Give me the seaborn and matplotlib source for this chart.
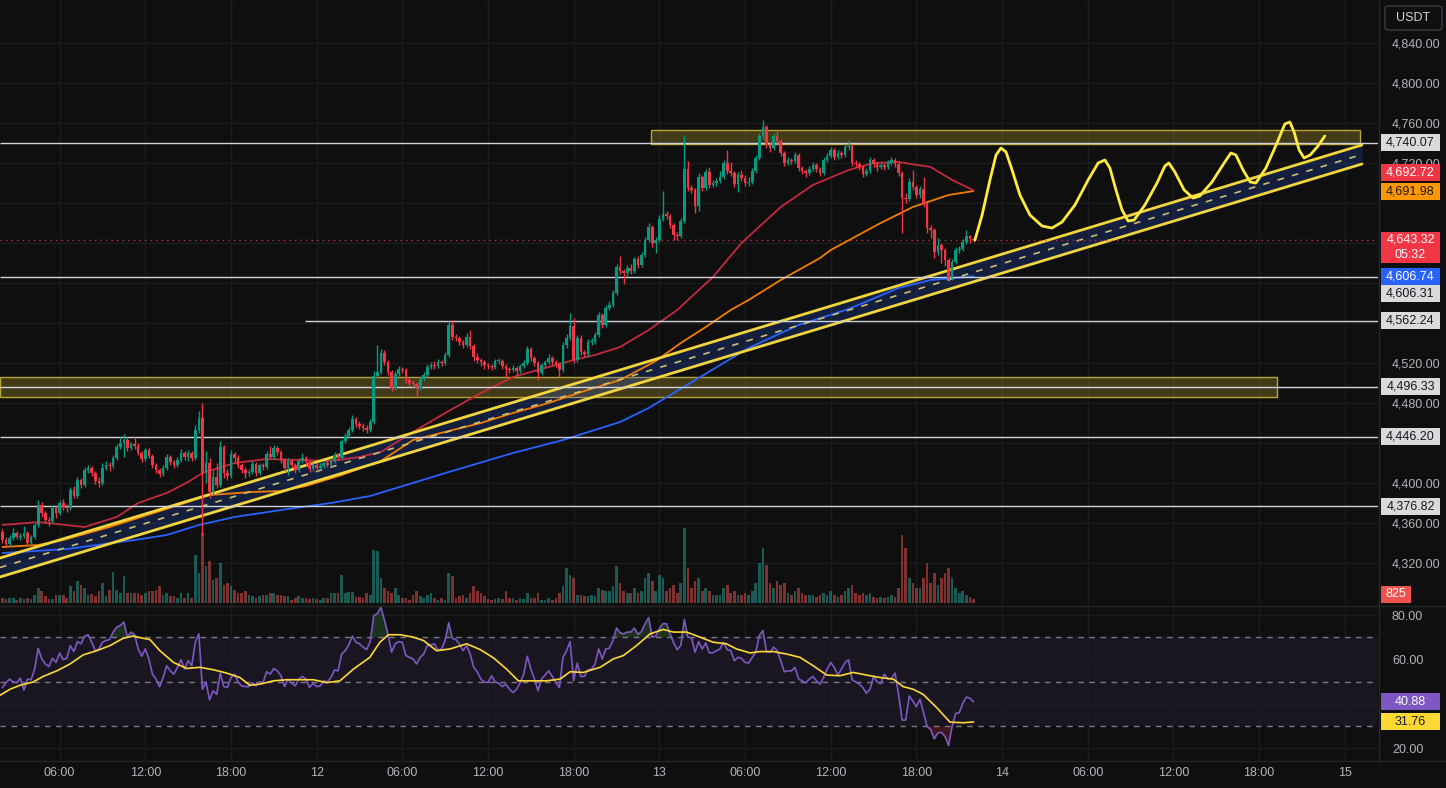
import numpy as np
import pandas as pd
import seaborn as sns
import matplotlib.pyplot as plt
from matplotlib.patches import Rectangle, FancyBboxPatch
from matplotlib.lines import Line2D

#------------------------------------------------------------------------------#
# 15 min candles, first bar opens on the 11th at 02:00 (x = bar number)
#------------------------------------------------------------------------------#
first_open = 4351
closes = [
    4343, 4339, 4345, 4350, 4346, 4347, 4350, 4340, 4346, 4358,
    4378, 4370, 4363, 4362, 4375, 4370, 4380, 4376, 4375, 4393,
    4387, 4403, 4398, 4413, 4415, 4410, 4402, 4400, 4415, 4418,
    4417, 4425, 4436, 4440, 4443, 4435, 4439, 4437, 4430, 4424,
    4433, 4427, 4418, 4413, 4409, 4415, 4426, 4421, 4418, 4423,
    4430, 4426, 4430, 4425, 4453, 4465, 4410, 4420, 4391, 4406,
    4398, 4436, 4410, 4407, 4429, 4425, 4418, 4413, 4410, 4411,
    4419, 4410, 4418, 4416, 4429, 4426, 4435, 4431, 4423, 4415,
    4422, 4418, 4413, 4422, 4425, 4421, 4414, 4418, 4415, 4417,
    4420, 4418, 4422, 4428, 4425, 4442, 4447, 4453, 4464, 4459,
    4457, 4455, 4453, 4461, 4507, 4511, 4530, 4521, 4511, 4495,
    4509, 4514, 4513, 4503, 4500, 4499, 4495, 4504, 4508, 4516,
    4518, 4517, 4521, 4520, 4528, 4558, 4546, 4545, 4541, 4538,
    4546, 4537, 4526, 4523, 4521, 4518, 4517, 4516, 4522, 4522,
    4517, 4514, 4513, 4515, 4512, 4517, 4520, 4534, 4525, 4520,
    4510, 4518, 4521, 4525, 4521, 4519, 4513, 4538, 4545, 4557,
    4523, 4545, 4531, 4529, 4541, 4541, 4548, 4568, 4558, 4575,
    4578, 4590, 4616, 4612, 4610, 4615, 4612, 4624, 4618, 4628,
    4643, 4656, 4640, 4643, 4664, 4669, 4667, 4658, 4648, 4647,
    4662, 4714, 4695, 4693, 4677, 4706, 4695, 4711, 4698, 4700,
    4702, 4706, 4720, 4712, 4710, 4699, 4708, 4705, 4700, 4701,
    4712, 4725, 4747, 4756, 4738, 4735, 4747, 4742, 4730, 4720,
    4723, 4722, 4728, 4715, 4712, 4710, 4714, 4718, 4714, 4710,
    4723, 4727, 4733, 4726, 4730, 4728, 4736, 4737, 4720, 4719,
    4716, 4709, 4712, 4723, 4719, 4716, 4718, 4716, 4720, 4723,
    4719, 4710, 4685, 4684, 4701, 4696, 4688, 4694, 4679, 4655,
    4653, 4631, 4638, 4633, 4623, 4605, 4621, 4633, 4634, 4641,
    4647, 4644, 4643.32]
highs = [
    4354, 4346, 4348, 4355, 4352, 4350, 4357, 4352, 4348, 4360,
    4383, 4381, 4372, 4366, 4378, 4377, 4383, 4384, 4379, 4396,
    4397, 4406, 4405, 4416, 4418, 4417, 4412, 4406, 4420, 4422,
    4421, 4428, 4439, 4446, 4449, 4446, 4441, 4446, 4440, 4432,
    4435, 4435, 4429, 4420, 4415, 4418, 4429, 4428, 4423, 4426,
    4434, 4432, 4433, 4432, 4458, 4472, 4480, 4432, 4425, 4413,
    4420, 4442, 4438, 4414, 4433, 4431, 4428, 4420, 4416, 4414,
    4422, 4421, 4420, 4420, 4432, 4437, 4438, 4437, 4433, 4425,
    4425, 4424, 4420, 4425, 4430, 4427, 4423, 4421, 4420, 4420,
    4422, 4423, 4424, 4431, 4430, 4444, 4450, 4456, 4468, 4466,
    4462, 4460, 4458, 4464, 4512, 4538, 4534, 4533, 4523, 4513,
    4512, 4517, 4516, 4515, 4505, 4503, 4501, 4506, 4511, 4519,
    4521, 4522, 4524, 4523, 4531, 4562, 4563, 4549, 4547, 4543,
    4550, 4553, 4539, 4530, 4525, 4523, 4520, 4519, 4524, 4525,
    4524, 4519, 4516, 4518, 4517, 4519, 4523, 4537, 4536, 4527,
    4522, 4520, 4523, 4529, 4527, 4523, 4521, 4541, 4549, 4570,
    4565, 4548, 4548, 4533, 4544, 4545, 4551, 4571, 4570, 4578,
    4582, 4593, 4619, 4627, 4614, 4618, 4619, 4626, 4627, 4631,
    4646, 4660, 4658, 4646, 4668, 4692, 4672, 4669, 4660, 4651,
    4665, 4748, 4722, 4698, 4695, 4710, 4708, 4714, 4716, 4703,
    4705, 4712, 4723, 4733, 4721, 4712, 4711, 4713, 4708, 4706,
    4715, 4728, 4750, 4763, 4758, 4741, 4750, 4753, 4744, 4732,
    4726, 4725, 4731, 4730, 4717, 4714, 4717, 4721, 4720, 4716,
    4726, 4730, 4736, 4735, 4733, 4732, 4739, 4743, 4739, 4723,
    4721, 4718, 4715, 4726, 4725, 4721, 4721, 4720, 4723, 4726,
    4725, 4722, 4712, 4690, 4705, 4713, 4698, 4697, 4706, 4681,
    4658, 4655, 4645, 4640, 4635, 4625, 4624, 4636, 4637, 4644,
    4653, 4648, 4646]
lows = [
    4340, 4336, 4337, 4343, 4344, 4343, 4345, 4337, 4338, 4344,
    4356, 4366, 4360, 4357, 4360, 4365, 4368, 4373, 4371, 4373,
    4385, 4385, 4395, 4396, 4410, 4407, 4399, 4396, 4398, 4413,
    4412, 4415, 4423, 4434, 4426, 4432, 4433, 4434, 4428, 4421,
    4422, 4425, 4415, 4410, 4406, 4407, 4413, 4418, 4415, 4416,
    4421, 4423, 4422, 4422, 4423, 4450, 4348, 4400, 4385, 4388,
    4395, 4396, 4405, 4403, 4405, 4420, 4415, 4410, 4405, 4407,
    4409, 4407, 4408, 4413, 4414, 4424, 4424, 4428, 4420, 4412,
    4408, 4415, 4410, 4411, 4420, 4418, 4411, 4412, 4412, 4413,
    4415, 4416, 4416, 4420, 4423, 4424, 4440, 4445, 4451, 4456,
    4454, 4452, 4450, 4451, 4459, 4505, 4509, 4518, 4508, 4492,
    4493, 4507, 4510, 4500, 4497, 4496, 4486, 4493, 4502, 4506,
    4514, 4514, 4515, 4517, 4518, 4526, 4543, 4542, 4538, 4535,
    4536, 4534, 4522, 4520, 4517, 4514, 4514, 4513, 4514, 4519,
    4514, 4506, 4510, 4511, 4508, 4510, 4515, 4518, 4522, 4517,
    4503, 4508, 4516, 4519, 4518, 4516, 4506, 4511, 4535, 4543,
    4520, 4521, 4528, 4526, 4527, 4538, 4539, 4546, 4555, 4556,
    4573, 4576, 4588, 4609, 4599, 4607, 4609, 4610, 4615, 4616,
    4626, 4641, 4636, 4630, 4641, 4662, 4664, 4655, 4643, 4643,
    4645, 4660, 4692, 4690, 4670, 4672, 4692, 4693, 4695, 4696,
    4697, 4700, 4704, 4709, 4707, 4696, 4691, 4702, 4697, 4697,
    4699, 4710, 4723, 4744, 4735, 4731, 4733, 4739, 4727, 4717,
    4718, 4719, 4720, 4712, 4709, 4706, 4708, 4712, 4711, 4707,
    4708, 4721, 4725, 4723, 4724, 4725, 4726, 4733, 4717, 4716,
    4713, 4706, 4707, 4710, 4716, 4712, 4714, 4713, 4714, 4718,
    4716, 4707, 4650, 4680, 4682, 4693, 4685, 4685, 4676, 4650,
    4645, 4625, 4628, 4620, 4617, 4602, 4603, 4619, 4630, 4632,
    4639, 4640, 4641]
volume = [
    1000, 800, 1000, 1000, 600, 1000, 800, 1000, 800, 1600,
    3000, 2400, 1400, 800, 800, 1600, 1600, 1600, 1000, 3400,
    2400, 4400, 3600, 3000, 1600, 1800, 1400, 2400, 4000, 1400,
    2600, 6200, 2600, 2000, 5400, 2000, 2000, 2000, 2000, 1600,
    2000, 2400, 2400, 2600, 3400, 1600, 2000, 1400, 1400, 1000,
    2000, 1000, 2000, 1000, 9600, 6000, 14000, 7400, 8400, 4600,
    5000, 8000, 3600, 4000, 3400, 2600, 2000, 2000, 2400, 1600,
    1400, 1000, 1400, 1600, 1600, 2000, 2000, 1600, 1600, 1400,
    1400, 600, 1000, 1400, 1000, 1000, 800, 1000, 800, 600,
    1000, 1000, 2000, 2000, 2000, 5600, 2000, 2200, 2200, 1200,
    1200, 1000, 2000, 1600, 10600, 10400, 5000, 3000, 2400, 2000,
    3000, 1600, 1000, 1000, 600, 1600, 2400, 1400, 1000, 1600,
    2000, 1000, 600, 1000, 600, 6000, 5400, 1000, 1400, 1600,
    1000, 2000, 3400, 2400, 2000, 1400, 800, 600, 800, 1000,
    800, 2400, 1000, 1000, 600, 1000, 800, 2000, 1000, 1000,
    2000, 600, 600, 1000, 600, 1000, 2000, 3400, 7000, 5600,
    5000, 1600, 1600, 1400, 1400, 1600, 1400, 3000, 2600, 2400,
    2400, 3400, 7400, 4000, 2400, 2000, 2000, 3000, 2000, 2400,
    5000, 6000, 4400, 2400, 5600, 5000, 2400, 3000, 3600, 2000,
    4000, 15000, 7000, 3000, 4400, 5000, 2400, 3000, 2400, 1600,
    1600, 1600, 3000, 3600, 2000, 2400, 1600, 1600, 2000, 1600,
    2400, 4000, 8000, 11000, 7600, 4000, 3000, 4400, 3600, 4000,
    2000, 1600, 2400, 3000, 2000, 1600, 1600, 1600, 1200, 1600,
    2000, 1600, 2400, 1600, 1200, 1600, 2400, 3000, 3600, 2000,
    1600, 2000, 1600, 2000, 1200, 1000, 1200, 1000, 1200, 1600,
    1200, 3000, 13600, 11000, 5000, 4000, 3000, 3000, 5000, 8000,
    4000, 6000, 3600, 5000, 6000, 7000, 5000, 3000, 2000, 2400,
    1600, 1200, 825]
rsi = [
    47.3, 49.5, 51.1, 49.8, 49.5, 51.5, 46.2, 51.1, 50.8, 55.6,
    65.0, 60.2, 57.9, 56.8, 60.5, 58.6, 62.9, 59.8, 60.5, 66.2,
    63.5, 68.0, 67.0, 70.5, 71.1, 67.7, 63.9, 64.7, 67.7, 68.5,
    68.9, 72.3, 74.5, 75.3, 76.8, 70.0, 72.3, 71.1, 64.7, 61.4,
    64.7, 60.2, 53.3, 51.1, 47.7, 51.8, 57.1, 54.8, 53.3, 56.4,
    59.8, 55.6, 59.4, 57.1, 67.7, 71.5, 46.5, 49.8, 41.7, 45.8,
    44.2, 53.8, 47.7, 47.3, 51.8, 53.3, 49.8, 48.0, 47.7, 47.7,
    49.5, 48.0, 49.8, 49.5, 54.4, 53.3, 55.9, 54.8, 52.6, 47.7,
    51.1, 49.2, 48.0, 51.1, 52.3, 51.1, 47.3, 49.2, 47.7, 48.0,
    50.3, 49.8, 51.8, 55.2, 54.8, 62.4, 63.9, 66.5, 70.5, 67.7,
    67.0, 65.5, 64.4, 68.0, 79.8, 80.6, 83.6, 77.6, 71.1, 63.2,
    67.0, 68.0, 67.7, 61.7, 60.9, 60.2, 57.9, 60.9, 62.4, 66.2,
    66.5, 67.0, 63.9, 64.7, 68.5, 76.5, 69.5, 68.9, 67.0, 63.9,
    66.2, 62.4, 56.4, 54.4, 51.1, 49.8, 49.5, 52.6, 49.8, 49.2,
    47.7, 48.8, 46.5, 45.0, 46.5, 49.5, 53.3, 61.4, 55.6, 51.1,
    45.8, 51.1, 52.9, 54.8, 52.3, 49.5, 47.3, 60.9, 63.9, 68.0,
    50.3, 58.3, 52.3, 52.3, 55.3, 55.6, 57.9, 64.7, 60.2, 64.7,
    65.0, 68.5, 74.1, 72.0, 71.5, 72.3, 72.3, 74.1, 71.2, 72.6,
    76.1, 78.8, 70.0, 70.5, 73.8, 76.1, 76.1, 71.5, 67.4, 64.4,
    66.3, 78.0, 70.0, 69.7, 63.2, 68.0, 64.7, 67.4, 62.9, 63.0,
    63.9, 64.7, 67.7, 64.4, 63.9, 59.4, 60.9, 60.5, 58.6, 58.3,
    60.9, 63.2, 70.8, 73.0, 63.5, 63.2, 65.5, 63.9, 59.4, 54.4,
    54.8, 54.8, 56.4, 51.1, 50.3, 49.3, 51.1, 52.3, 50.3, 48.8,
    51.8, 55.6, 58.6, 56.4, 52.9, 55.6, 58.6, 59.8, 50.8, 49.8,
    48.8, 47.3, 44.7, 46.5, 52.3, 49.8, 49.0, 53.3, 51.1, 51.4,
    53.8, 44.2, 32.6, 32.6, 43.5, 41.2, 38.6, 42.0, 35.9, 29.8,
    28.3, 24.1, 26.8, 27.1, 25.3, 21.1, 29.8, 35.6, 35.9, 40.2,
    43.0, 42.4, 40.88]

# RSI based MA (yellow), read at points along the line
rsi_ma_x = [-0.7, 2.1, 4.9, 8.6, 11.4, 15.2, 18.9, 22.6, 26.4, 30.1,
            33.8, 36.6, 39.4, 41.3, 44.1, 47.9, 51.6, 55.3, 59.1, 62.8,
            66.5, 69.3, 72.1, 75.9, 79.6, 83.3, 87.1, 90.8, 94.5, 98.3,
            102.9, 105.7, 108.1, 111.3, 115.1, 117.9, 121.6, 125.4, 130.0, 133.7,
            137.5, 141.2, 144.5, 148.7, 152.4, 156.2, 159.0, 162.7, 167.4, 171.1,
            173.9, 177.6, 181.4, 185.1, 187.9, 191.6, 195.4, 199.1, 202.8, 205.6,
            209.4, 212.2, 215.9, 219.6, 223.4, 227.1, 230.9, 234.6, 238.3, 242.1,
            245.8, 249.5, 252.3, 255.1, 257.9, 261.7, 265.4, 269.1, 272.0]
rsi_ma = [43.8, 46.5, 48.3, 49.8, 52.3, 54.8, 57.9, 62.0, 63.9, 66.2,
          69.5, 70.5, 69.5, 68.9, 63.9, 58.6, 55.9, 56.4, 55.3, 53.8,
          51.8, 48.3, 48.8, 50.3, 50.8, 50.8, 50.8, 49.5, 50.3, 55.6,
          60.9, 67.7, 71.1, 71.1, 70.0, 68.5, 63.9, 64.7, 67.0, 64.5,
          60.7, 55.6, 50.3, 50.3, 50.3, 51.1, 54.4, 54.1, 56.4, 60.2,
          61.7, 66.2, 71.5, 73.5, 72.3, 72.3, 70.0, 67.7, 67.0, 64.7,
          62.9, 63.5, 63.5, 62.4, 60.9, 57.1, 52.9, 52.6, 54.1, 52.9,
          51.8, 51.1, 47.7, 46.5, 44.2, 38.2, 31.7, 31.4, 31.76]

# moving averages on price (red, orange, blue)
ma_red_x = [0, 10, 23, 32, 38, 46, 52, 56, 65, 74, 83, 92, 100, 106, 110, 115, 124, 134,
            143, 153, 160, 166, 173, 181, 189, 192, 199, 207, 218, 227, 237, 244, 251,
            260, 266, 272]
ma_red = [4358, 4361, 4356, 4366, 4380, 4390, 4401, 4410, 4420, 4424, 4423, 4422, 4426,
          4431, 4440, 4451, 4470, 4490, 4506, 4516, 4523, 4528, 4536, 4553, 4573, 4583,
          4606, 4640, 4676, 4698, 4713, 4720, 4721, 4716, 4703, 4692.72]
ma_orange_x = [0, 10, 17, 30, 45, 58, 70, 78, 85, 95, 106, 115, 125, 134, 143, 153, 163,
               173, 183, 190, 197, 204, 209, 218, 229, 232, 246, 255, 265, 272]
ma_orange = [4336, 4338, 4343, 4356, 4373, 4388, 4391, 4392, 4397, 4408, 4422, 4443, 4452,
             4460, 4470, 4480, 4492, 4503, 4522, 4540, 4556, 4573, 4583, 4603, 4625, 4633,
             4660, 4676, 4688, 4691.98]
ma_blue_x = [0, 18, 37, 46, 55, 65, 78, 92, 103, 125, 143, 157, 173, 181, 195, 209, 223,
             237, 251, 260, 272]
ma_blue = [4330, 4334, 4343, 4348, 4358, 4366, 4373, 4380, 4387, 4411, 4430, 4443, 4461,
           4475, 4505, 4535, 4558, 4574, 4595, 4603, 4606.74]

# drawn objects
chan_x = [-0.7, 380.8]
chan_upper = [4325, 4738]
chan_mid = [4315.5, 4728.5]
chan_lower = [4306, 4719]

zone_x0 = [181.7, -0.7]
zone_x1 = [380.3, 357.0]
zone_lo = [4739, 4486]
zone_hi = [4753, 4506]

level_vals = [4740.07, 4606.31, 4562.24, 4496.33, 4446.20, 4376.82]
level_from = [-0.7, -0.7, 84.7, -0.7, -0.7, -0.7]

# hand-drawn forecast path
fc_x = [272.4, 274.4, 276.6, 278.3, 279.7, 281.1, 282.8, 285.0, 287.8, 291.2, 294.0,
        296.8, 300.4, 304.1, 306.9, 308.8, 310.2, 311.9, 313.6, 315.3, 317.0, 320.0,
        323.4, 325.6, 326.7, 328.4, 331.0, 333.5, 335.4, 338.8, 342.2, 344.1, 345.5,
        347.5, 349.5, 351.1, 353.9, 357.0, 359.2, 360.6, 361.8, 363.2, 364.6, 366.3,
        368.5, 370.4]
fc_y = [4643, 4668, 4703, 4728, 4735, 4731, 4713, 4688, 4668, 4657, 4655,
        4661, 4678, 4703, 4720, 4723, 4715, 4693, 4673, 4662, 4663, 4678,
        4700, 4717, 4720, 4711, 4693, 4685, 4687, 4701, 4720, 4730, 4728,
        4713, 4701, 4700, 4715, 4740, 4759, 4761, 4751, 4733, 4725, 4728,
        4737, 4747]

price_ticks = [4320, 4360, 4400, 4440, 4480, 4520, 4560, 4600, 4640, 4680, 4720, 4760, 4800, 4840]
price_hidden = [4440, 4560, 4600, 4640, 4680]      # sit under the price tags
rsi_ticks = [20, 40, 60, 80]
rsi_hidden = [40]
tick_hours = [6, 12, 18, 24, 30, 36, 42, 48, 54, 60, 66, 72, 78, 84, 90, 96]
tick_labels = ['06:00', '12:00', '18:00', '12', '06:00', '12:00', '18:00', '13',
               '06:00', '12:00', '18:00', '14', '06:00', '12:00', '18:00', '15']
countdown = '05:32'

#------------------------------------------------------------------------------#

W, H = 1446, 788
BG = '#0f0f0f'
GRID = '#1c1c1c'
TXT = '#b2b5be'
UP, DN = '#089981', '#f23645'


def main():
    sns.set_theme(style='dark', rc={'axes.facecolor': BG, 'figure.facecolor': BG,
                                    'savefig.facecolor': BG})
    plt.rcParams['font.family'] = ['Liberation Sans', 'DejaVu Sans']

    fig = plt.figure(figsize=(W / 100, H / 100), dpi=100)

    def px_axes(x0, y0, x1, y1):
        return fig.add_axes([x0 / W, 1 - y1 / H, (x1 - x0) / W, (y1 - y0) / H])

    ax = px_axes(0, 0, 1378, 605)
    axr = px_axes(0, 606, 1378, 760)
    x_lo, x_hi = -0.7, 385.3

    n = min(len(closes), len(highs), len(lows), len(volume), len(rsi))
    idx = np.arange(n)
    c = np.array(closes[:n], float)
    o = np.r_[first_open, c[:-1]]
    hi = np.array(highs[:n], float)
    lo = np.array(lows[:n], float)
    up = c >= o
    cols = np.where(up, UP, DN)

    # volume, drawn in axes-fraction height (about 200 coins per pixel)
    vol = np.array(volume[:n], float)
    ax.bar(idx, vol / (603 * 200), bottom=2 / 605, width=0.74,
           color=np.where(up, '#26a69a', '#ef5350'), alpha=0.5, lw=0,
           transform=ax.get_xaxis_transform(), zorder=1)

    # zones
    for x0, x1, y0, y1 in zip(zone_x0, zone_x1, zone_lo, zone_hi):
        ax.add_patch(Rectangle((x0, y0), x1 - x0, y1 - y0, facecolor=(0.99, 0.85, 0.21, 0.22),
                               edgecolor='#b8a536', lw=1, zorder=2))

    # channel
    ax.fill_between(chan_x, chan_lower, chan_upper, color='#2962ff', alpha=0.2, lw=0, zorder=2)

    # moving averages
    sns.lineplot(x=ma_blue_x, y=ma_blue, ax=ax, color='#2962ff', lw=1.3, estimator=None, zorder=3)
    sns.lineplot(x=ma_orange_x, y=ma_orange, ax=ax, color='#f57c00', lw=1.3, estimator=None, zorder=3)
    sns.lineplot(x=ma_red_x, y=ma_red, ax=ax, color='#c42a3d', lw=1.3, estimator=None, zorder=3)

    sns.lineplot(x=chan_x, y=chan_upper, ax=ax, color='#f2d53c', lw=2, estimator=None, zorder=3)
    sns.lineplot(x=chan_x, y=chan_lower, ax=ax, color='#f2d53c', lw=2, estimator=None, zorder=3)
    ax.plot(chan_x, chan_mid, color='#cbbf72', lw=1.2, ls=(0, (4, 5)), zorder=3)

    # horizontal levels
    ax.hlines(level_vals, level_from, x_hi, colors='#d1d4dc', lw=1, zorder=3)
    ax.axhline(c[-1], color=DN, lw=1, ls=(0, (1, 3)), alpha=0.8, zorder=3)

    # candles
    ax.vlines(idx, lo, hi, colors=cols, lw=1, zorder=4)
    ax.bar(idx, np.maximum(np.abs(c - o), 0.8), bottom=np.minimum(o, c), width=0.74,
           color=cols, lw=0, zorder=5)

    # forecast path
    sns.lineplot(x=fc_x, y=fc_y, ax=ax, color='#ffeb3b', lw=2, sort=False, estimator=None,
                 solid_joinstyle='round', solid_capstyle='round', zorder=6)

    # RSI pane
    r = np.array(rsi[:n], float)
    axr.axhspan(30, 70, color='#7e57c2', alpha=0.1, lw=0, zorder=0)
    for lvl in (70, 50, 30):
        axr.axhline(lvl, color='#787b86', lw=1, ls=(0, (4, 4)), zorder=1)
    axr.fill_between(idx, r, 70, where=r > 70, interpolate=True, color='#4caf50', alpha=0.22, lw=0)
    axr.fill_between(idx, r, 30, where=r < 30, interpolate=True, color='#f23645', alpha=0.22, lw=0)
    sns.lineplot(x=idx, y=r, ax=axr, color='#7e57c2', lw=1.2, estimator=None, zorder=3)
    sns.lineplot(x=rsi_ma_x, y=rsi_ma, ax=axr, color='#fdd835', lw=1.2, estimator=None, zorder=3)

    # axes cosmetics
    tick_x = [(h - 2) * 4 for h in tick_hours]
    for a in (ax, axr):
        a.set_facecolor('none')
        for s in a.spines.values():
            s.set_visible(False)
        a.set_xlim(x_lo, x_hi)
        a.set_xticks(tick_x)
        a.yaxis.tick_right()
        a.tick_params(axis='y', length=0, pad=10, labelsize=9, labelcolor=TXT)
        a.grid(True, color=GRID, lw=1)
        a.set_axisbelow(True)
        a.set_xlabel('')
        a.set_ylabel('')
    ax.set_ylim(4278, 4883)
    ax.set_yticks(price_ticks)
    ax.set_yticklabels(['' if t in price_hidden else f'{t:,.2f}' for t in price_ticks])
    ax.tick_params(axis='x', length=0, labelbottom=False)
    axr.set_ylim(14.6, 84.06)
    axr.set_yticks(rsi_ticks)
    axr.set_yticklabels(['' if t in rsi_hidden else f'{t:.2f}' for t in rsi_ticks])
    axr.set_xticklabels(tick_labels)
    axr.tick_params(axis='x', length=0, pad=5, labelsize=9, labelcolor=TXT)

    # pane borders
    for y in (605.5, 760.5):
        fig.add_artist(Line2D([0, 1], [1 - y / H] * 2, color='#262626', lw=1,
                              transform=fig.transFigure))
    fig.add_artist(Line2D([1378.5 / W] * 2, [1 - 760 / H, 1], color='#262626', lw=1,
                          transform=fig.transFigure))

    # price scale tags
    def ypx(a, v):
        return H - a.transData.transform((0, v))[1]

    def tag(y, text, bg, fg, x0=1381, x1=1440, h=17):
        fig.add_artist(Rectangle((x0 / W, 1 - (y + h / 2) / H), (x1 - x0) / W, h / H,
                                 transform=fig.transFigure, facecolor=bg, lw=0, zorder=10))
        fig.text((x0 + x1) / 2 / W, 1 - y / H, text, ha='center', va='center', color=fg,
                 fontsize=9, zorder=11)

    gray, dark = '#dadada', '#131722'
    tag(ypx(ax, level_vals[0]), f'{level_vals[0]:,.2f}', gray, dark)
    tag(ypx(ax, ma_red[-1]) - 18, f'{ma_red[-1]:,.2f}', DN, 'white')
    tag(ypx(ax, ma_orange[-1]), f'{ma_orange[-1]:,.2f}', '#ff9800', dark)
    y_last = ypx(ax, c[-1])
    fig.add_artist(Rectangle((1381 / W, 1 - (y_last + 23) / H), 59 / W, 31 / H,
                             transform=fig.transFigure, facecolor=DN, lw=0, zorder=10))
    fig.text(1410.5 / W, 1 - y_last / H, f'{c[-1]:,.2f}', ha='center', va='center',
             color='white', fontsize=9, zorder=11)
    fig.text(1410.5 / W, 1 - (y_last + 15) / H, countdown, ha='center', va='center',
             color='white', fontsize=9, zorder=11)
    tag(ypx(ax, ma_blue[-1]), f'{ma_blue[-1]:,.2f}', '#2962ff', 'white')
    tag(ypx(ax, level_vals[1]) + 17, f'{level_vals[1]:,.2f}', gray, dark)
    for v in level_vals[2:]:
        tag(ypx(ax, v), f'{v:,.2f}', gray, dark)
    tag(594, f'{vol[-1]:.0f}', '#ef5350', 'white', x1=1411)
    tag(ypx(axr, r[-1]), f'{r[-1]:.2f}', '#7e57c2', 'white')
    tag(ypx(axr, rsi_ma[-1]), f'{rsi_ma[-1]:.2f}', '#fdd835', dark)

    fig.add_artist(FancyBboxPatch((1385 / W, 1 - 30 / H), 57 / W, 24 / H,
                                  boxstyle='round,pad=0,rounding_size=0.003',
                                  transform=fig.transFigure, facecolor=BG,
                                  edgecolor='#3a3e48', lw=1, zorder=10))
    fig.text(1413.5 / W, 1 - 18 / H, 'USDT', ha='center', va='center', color='#d1d4dc',
             fontsize=9, zorder=11)

    fig.savefig('out.png', dpi=100, facecolor=BG)


if __name__ == '__main__':
    main()
